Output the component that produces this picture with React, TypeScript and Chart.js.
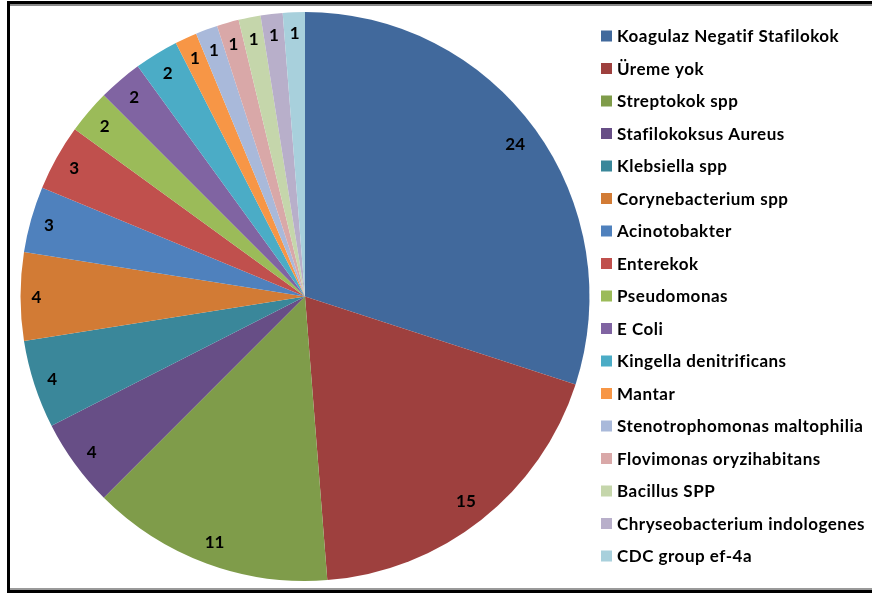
import React, { useEffect, useRef } from "react";
import { Chart, registerables } from "chart.js";

Chart.register(...registerables);

const categories = [
  "Koagulaz Negatif Stafilokok",
  "Üreme yok",
  "Streptokok spp",
  "Stafilokoksus Aureus",
  "Klebsiella spp",
  "Corynebacterium spp",
  "Acinotobakter",
  "Enterekok",
  "Pseudomonas",
  "E Coli",
  "Kingella denitrificans",
  "Mantar",
  "Stenotrophomonas maltophilia",
  "Flovimonas oryzihabitans",
  "Bacillus SPP",
  "Chryseobacterium indologenes",
  "CDC group ef-4a",
];

const values = [24, 15, 11, 4, 4, 4, 3, 3, 2, 2, 2, 1, 1, 1, 1, 1, 1];

const colors = [
  "#41699C",
  "#9E403E",
  "#7F9C4A",
  "#674E86",
  "#3A879A",
  "#D27B35",
  "#4F81BD",
  "#C0504D",
  "#9BBB59",
  "#8064A2",
  "#4BACC6",
  "#F79646",
  "#A9B9DA",
  "#D9A8A8",
  "#C5D6AB",
  "#B8AFCA",
  "#A8D0DC",
];

const FONT = "Lato, 'Open Sans', sans-serif";

const labelPlugin = {
  id: "insideEndLabels",
  afterDatasetsDraw(chart: any) {
    const ctx = chart.ctx;
    const meta = chart.getDatasetMeta(0);
    const data = chart.data.datasets[0].data;
    ctx.save();
    ctx.font = `bold 17px ${FONT}`;
    ctx.fillStyle = "#000";
    ctx.textAlign = "center";
    ctx.textBaseline = "middle";
    meta.data.forEach((arc: any, i: number) => {
      const p = arc.getProps(["x", "y", "startAngle", "endAngle", "outerRadius"], true);
      const mid = (p.startAngle + p.endAngle) / 2;
      const txt = String(data[i]);
      const hw = ctx.measureText(txt).width / 2 + 1;
      const hh = 10;
      const c = Math.cos(mid);
      const s = Math.sin(mid);
      const d = p.outerRadius - 10 - hw * Math.abs(c) - hh * Math.abs(s);
      ctx.fillText(txt, p.x + c * d, p.y + s * d + 1);
    });
    ctx.restore();
  },
};

const legendPlugin = {
  id: "sideLegend",
  afterDraw(chart: any, _args: any, opts: any) {
    const ctx = chart.ctx;
    const labels = chart.data.labels as string[];
    const bg = chart.data.datasets[0].backgroundColor as string[];
    ctx.save();
    ctx.font = `${opts.weight} ${opts.size}px ${FONT}`;
    try {
      (ctx as any).letterSpacing = opts.spacing;
    } catch (e) {}
    ctx.textBaseline = "middle";
    ctx.textAlign = "left";
    labels.forEach((l, i) => {
      const y = opts.top + i * opts.step;
      ctx.fillStyle = bg[i];
      ctx.fillRect(opts.boxX, y - opts.box / 2, opts.box, opts.box);
      ctx.fillStyle = "#000";
      ctx.fillText(l, opts.textX, y + 1);
    });
    ctx.restore();
  },
};

export default function App() {
  const ref = useRef<HTMLCanvasElement | null>(null);

  useEffect(() => {
    if (!ref.current) return;
    const chart = new Chart(ref.current, {
      type: "pie",
      data: {
        labels: categories,
        datasets: [
          {
            data: values,
            backgroundColor: colors,
            borderWidth: 0,
          },
        ],
      },
      options: {
        responsive: false,
        animation: false,
        devicePixelRatio: 1,
        layout: { padding: { left: 20.5, right: 282.5, top: 12, bottom: 14 } },
        plugins: {
          legend: { display: false },
          tooltip: { enabled: false },
          sideLegend: {
            top: 36,
            step: 32.5,
            boxX: 601,
            box: 11,
            textX: 617,
            size: 17,
            weight: "bold",
            spacing: "0.5px",
          },
        } as any,
      },
      plugins: [labelPlugin, legendPlugin],
    });
    return () => chart.destroy();
  }, []);

  return (
    <div style={{ position: "fixed", left: 0, top: 0, width: 872, height: 595, background: "#fff", overflow: "hidden" }}>
      <canvas ref={ref} width={872} height={595} style={{ position: "absolute", left: 0, top: 0, width: 872, height: 595 }} />
      <div style={{ position: "absolute", left: 7, top: 1, width: 865, height: 3, background: "#000" }} />
      <div style={{ position: "absolute", left: 10, top: 4, width: 862, height: 2, background: "#8a8a8a" }} />
      <div style={{ position: "absolute", left: 7, top: 1, width: 3, height: 592, background: "#000" }} />
      <div style={{ position: "absolute", left: 10, top: 588, width: 862, height: 2, background: "#9a9a9a" }} />
      <div style={{ position: "absolute", left: 7, top: 590, width: 865, height: 3, background: "#000" }} />
    </div>
  );
}
